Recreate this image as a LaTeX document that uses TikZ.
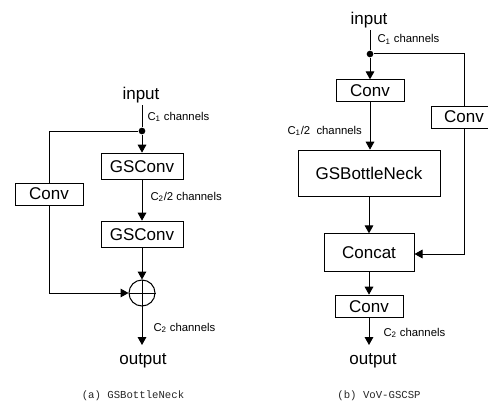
\documentclass[tikz,border=0pt]{standalone}
\usepackage{fontspec}
\setmainfont{Liberation Sans}
\newfontfamily\capfont{Liberation Mono}
\usetikzlibrary{arrows.meta}
\begin{document}
\begin{tikzpicture}[x=0.75pt,y=-0.75pt,
  line width=0.75pt,
  arr/.style={-{Triangle[length=6pt,width=6.5pt]}},
  blk/.style={draw,rectangle,inner sep=0pt,font=\fontsize{12.75}{15}\selectfont},
  io/.style={anchor=base,inner sep=0pt,font=\fontsize{12.75}{15}\selectfont},
  lbl/.style={anchor=base west,inner sep=0pt,font=\fontsize{8.5}{10}\selectfont},
  capt/.style={anchor=base,inner sep=0pt,text=black!85,font=\capfont\fontsize{8}{10}\selectfont},
  jdot/.style={fill,circle,inner sep=0pt,minimum size=5pt}]
\useasboundingbox (0,0) rectangle (488,403);
% ---------- (a) GSBottleNeck ----------
\node[io] (ina) at (141,99) {input};
\node[jdot] (da) at (142,131) {};
\node[lbl] (c1a) at (147,120) {C\textsubscript{1} channels};
\node[blk,minimum width=51pt,minimum height=16.5pt] (conva) at (49,194) {Conv};
\node[blk,minimum width=61.5pt,minimum height=20pt] (gs1) at (142,166.5) {GSConv};
\node[lbl] (c22) at (150,200) {C\textsubscript{2}/2 channels};
\node[blk,minimum width=61.5pt,minimum height=20pt] (gs2) at (142,234.5) {GSConv};
\node[draw,circle,inner sep=0pt,minimum size=19.5pt] (plus) at (142,293) {};
\draw (plus.north) -- (plus.south) (plus.west) -- (plus.east);
\coordinate (outa) at (142,345);
\coordinate (ca) at (49,131);
\coordinate (cb) at (49,293);
\node[lbl] (c2a) at (153,331) {C\textsubscript{2} channels};
\node[io] (outta) at (143,364) {output};
\node[capt] (capa) at (133,398) {(a) GSBottleNeck};
\draw (142,105) -- (da);
\draw[arr] (da) -- (gs1.north);
\draw (da) -- (ca) -- (conva.north);
\draw[arr] (gs1.south) -- (gs2.north);
\draw[arr] (gs2.south) -- (plus.north);
\draw[arr] (conva.south) -- (cb) -- (plus.west);
\draw[arr] (plus.south) -- (outa);
% ---------- (b) VoV-GSCSP ----------
\node[io] (inb) at (369,25) {input};
\node[jdot] (db) at (370,54) {};
\node[lbl] (c1b) at (377,43) {C\textsubscript{1} channels};
\node[blk,minimum width=51pt,minimum height=16pt] (convt) at (370,90.5) {Conv};
\node[lbl] (c12) at (287,134) {C\textsubscript{1}/2\ \ channels};
\node[blk,minimum width=106.5pt,minimum height=35pt] (gsb) at (369,173.5) {GSBottleNeck};
\node[blk,minimum width=67.5pt,minimum height=28pt] (cat) at (369,252.5) {Concat};
\node[blk,minimum width=51pt,minimum height=17pt] (convb) at (369,306.5) {Conv};
\node[blk,minimum width=49.5pt,minimum height=16.5pt] (convr) at (464,117) {Conv};
\coordinate (rt) at (464,54);
\coordinate (rb) at (464,254);
\coordinate (outb) at (369,345);
\node[lbl] (c2b) at (383,336) {C\textsubscript{2} channels};
\node[io] (outtb) at (373,364) {output};
\node[capt] (capb) at (379,398) {(b) VoV-GSCSP};
\draw (370,30) -- (db);
\draw[arr] (db) -- (convt.north);
\draw (db) -- (rt) -- (convr.north);
\draw[arr] (convt.south) -- (gsb.north-|convt.south);
\draw[arr] (gsb.south) -- (cat.north);
\draw[arr] (convr.south) -- (rb) -- (cat.east|-rb);
\draw[arr] (cat.south) -- (convb.north);
\draw[arr] (convb.south) -- (outb);
\end{tikzpicture}
\end{document}
